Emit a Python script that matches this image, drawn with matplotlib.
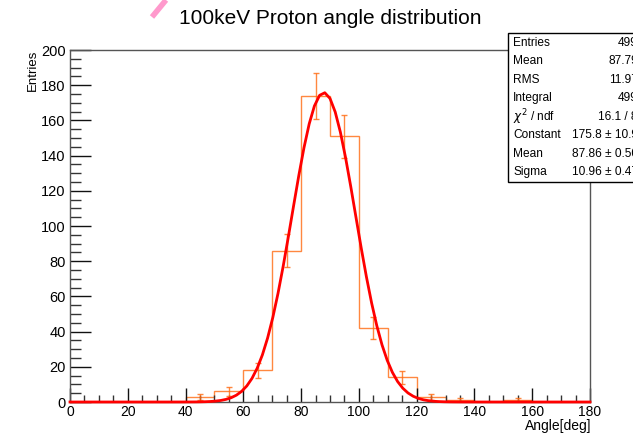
import numpy as np
import matplotlib
matplotlib.use("Agg")
import matplotlib.pyplot as plt
from matplotlib.lines import Line2D
from matplotlib.patches import Rectangle
from matplotlib.ticker import MultipleLocator

plt.rcParams['font.family'] = ['Liberation Sans', 'DejaVu Sans']

# histogram: 10 deg bins from 0 to 180
bin_edges = np.arange(0, 190, 10)
counts = [0, 0, 0, 0, 3, 6, 18, 86, 174, 151, 42, 14, 3, 1, 0, 1, 0, 0]

# gaussian fit parameters (from stats box)
fit_const = 175.8
fit_mean = 87.86
fit_sigma = 10.96

stat_names = ["Entries", "Mean", "RMS", "Integral", r"$\chi^2$ / ndf",
              "Constant", "Mean", "Sigma"]
stat_values = ["499", "87.79", "11.97", "499", "16.1 / 8",
               "175.8 ± 10.9", "87.86 ± 0.50", "10.96 ± 0.47"]

W, H = 633, 433
fig = plt.figure(figsize=(W / 100, H / 100), dpi=100)
ax = fig.add_axes([70 / W, 1 - 402 / H, 520 / W, 352 / H])

counts = np.array(counts, dtype=float)
centers = 0.5 * (bin_edges[:-1] + bin_edges[1:])
hist_col = '#ff6a10'
ax.stairs(counts, bin_edges, color=hist_col, lw=1.0, alpha=0.8)
nz = counts > 0
ax.errorbar(centers[nz], counts[nz], yerr=np.sqrt(counts[nz]), fmt='none',
            ecolor=hist_col, elinewidth=1.0, capsize=2.5, capthick=1.0, alpha=0.8)

# fit curve (drawn with 100 points like ROOT)
xf = np.linspace(0, 180, 101)
yf = fit_const * np.exp(-0.5 * ((xf - fit_mean) / fit_sigma) ** 2)
ax.plot(xf, yf, color='#ff0000', lw=2.0, clip_on=False, zorder=5)

ax.set_xlim(0, 180)
ax.set_ylim(0, 200)
ax.xaxis.set_major_locator(MultipleLocator(20))
ax.xaxis.set_minor_locator(MultipleLocator(5))
ax.yaxis.set_major_locator(MultipleLocator(20))
ax.yaxis.set_minor_locator(MultipleLocator(5))
ax.tick_params(axis='x', which='major', direction='in', length=10, width=1,
               labelsize=10, pad=2, color='#111111')
ax.tick_params(axis='x', which='minor', direction='in', length=5, width=1,
               color='#333333')
ax.tick_params(axis='y', which='major', direction='in', length=15, width=1,
               labelsize=10.5, pad=3, color='#111111')
ax.tick_params(axis='y', which='minor', direction='in', length=8, width=1,
               color='#333333')
for s in ax.spines.values():
    s.set_color('#555555')
    s.set_linewidth(1)

fig.text(591 / W, 1 - 426 / H, "Angle[deg]", ha='right', va='center', fontsize=10)
fig.text(33 / W, 1 - 50 / H, "Entries", ha='center', va='top', rotation=90,
         fontsize=9.5)
fig.text(330 / W, 1 - 19 / H, "100keV Proton angle distribution", ha='center',
         va='center', fontsize=15)

# stray pink stroke at the top
fig.add_artist(Line2D([152 / W, 166 / W], [1 - 17 / H, 1 - 0 / H],
                      color='#ff99cc', lw=4, solid_capstyle='butt'))

# stats box
fig.add_artist(Rectangle((508 / W, 1 - 182 / H), 140 / W, 149 / H,
                         transform=fig.transFigure, facecolor='white',
                         edgecolor='black', lw=1, zorder=10))
rows_y = [43, 61, 80, 98, 117, 135, 154, 172]
for name, val, yy in zip(stat_names, stat_values, rows_y):
    fig.text(513 / W, 1 - yy / H, name, ha='left', va='center', fontsize=8.6,
             zorder=11)
    fig.text(638 / W, 1 - yy / H, val, ha='right', va='center', fontsize=8.6,
             zorder=11)

fig.savefig("out.png", dpi=100)
